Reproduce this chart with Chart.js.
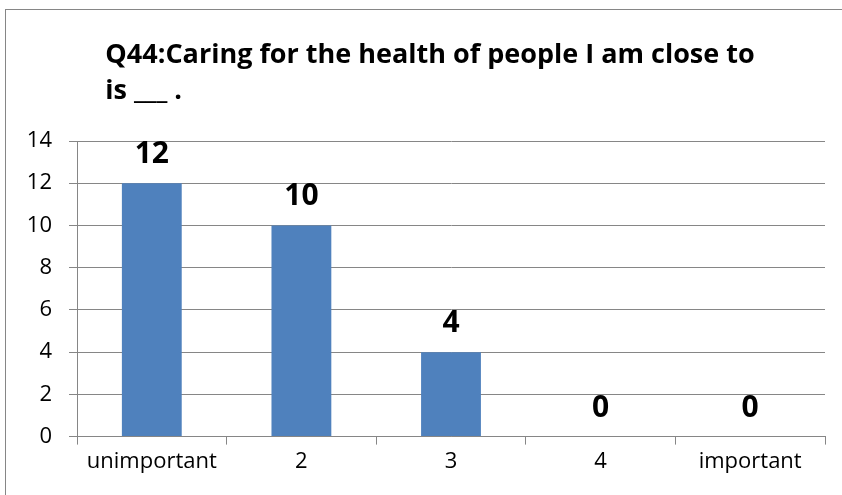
<!DOCTYPE html>
<html>
<head>
<meta charset="utf-8">
<script src="https://cdn.jsdelivr.net/npm/chart.js@4.4.1/dist/chart.umd.min.js"></script>
<style>
  html, body { margin: 0; padding: 0; background: #fff; overflow: hidden; }
  #wrap { position: relative; width: 842px; height: 495px; overflow: hidden; }
  #frame {
    position: absolute; left: 5px; top: 9px; width: 900px; height: 600px;
    border: 1px solid #868686; pointer-events: none; box-sizing: border-box;
  }
  canvas { display: block; }
</style>
</head>
<body>
<div id="wrap">
  <canvas id="chart" width="842" height="495"></canvas>
  <div id="frame"></div>
</div>
<script>
const titleLines = ['Q44:Caring for the health of people I am close to', 'is ___ .'];
const categories = ['unimportant', '2', '3', '4', 'important'];
const counts = [12, 10, 4, 0, 0];
const yTicks = [0, 2, 4, 6, 8, 10, 12, 14];

const barColor = '#4F81BD';
const lineColor = '#868686';
const fontFamily = '"Open Sans", Lato, sans-serif';
const titleSize = 27;

// title lines share one left edge, block centred over the chart
const leftTitle = {
  id: 'leftTitle',
  afterDraw(chart) {
    const tb = chart.titleBlock;
    if (!tb) return;
    const ctx = chart.ctx;
    ctx.save();
    ctx.font = `bold ${titleSize}px ${fontFamily}`;
    ctx.fillStyle = '#000';
    ctx.textBaseline = 'alphabetic';
    ctx.textAlign = 'left';
    const maxW = Math.max(...titleLines.map(t => ctx.measureText(t).width));
    const x0 = (tb.left + tb.right) / 2 - maxW / 2 + 15;
    titleLines.forEach((t, i) => {
      ctx.fillText(t, x0, tb.top + 63 + i * 36);
    });
    ctx.restore();
  }
};

// value above each bar
const valueLabels = {
  id: 'valueLabels',
  afterDatasetsDraw(chart) {
    const ctx = chart.ctx;
    const meta = chart.getDatasetMeta(0);
    ctx.save();
    ctx.font = `bold 30px ${fontFamily}`;
    ctx.fillStyle = '#000';
    ctx.textAlign = 'center';
    ctx.textBaseline = 'alphabetic';
    meta.data.forEach((bar, i) => {
      ctx.fillText(String(counts[i]), bar.x, bar.y - 20);
    });
    ctx.restore();
  }
};

new Chart(document.getElementById('chart'), {
  type: 'bar',
  data: {
    labels: categories,
    datasets: [{
      data: counts,
      backgroundColor: barColor,
      borderWidth: 0,
      categoryPercentage: 1,
      barPercentage: 0.4
    }]
  },
  options: {
    responsive: false,
    animation: false,
    layout: { padding: { left: 5, right: 17, top: 0, bottom: 16 } },
    plugins: {
      legend: { display: false },
      tooltip: { enabled: false },
      title: {
        display: true,
        text: titleLines,
        color: 'rgba(0,0,0,0)',
        font: { family: fontFamily, size: 25, weight: 'bold', lineHeight: 1.36 },
        padding: { top: 40, bottom: 33 }
      }
    },
    scales: {
      x: {
        grid: {
          offset: true,
          drawOnChartArea: false,
          drawTicks: true,
          tickLength: 8,
          color: lineColor
        },
        border: { color: lineColor },
        ticks: {
          color: '#000',
          font: { family: fontFamily, size: 22 },
          padding: 4
        }
      },
      y: {
        min: 0,
        max: 14,
        afterFit(scale) { scale.width = 72; },
        afterBuildTicks(scale) { scale.ticks = yTicks.map(v => ({ value: v })); },
        grid: { color: lineColor, tickLength: 8 },
        border: { color: lineColor },
        ticks: {
          color: '#000',
          font: { family: fontFamily, size: 22 },
          padding: 17
        }
      }
    }
  },
  plugins: [leftTitle, valueLabels]
});
</script>
</body>
</html>
